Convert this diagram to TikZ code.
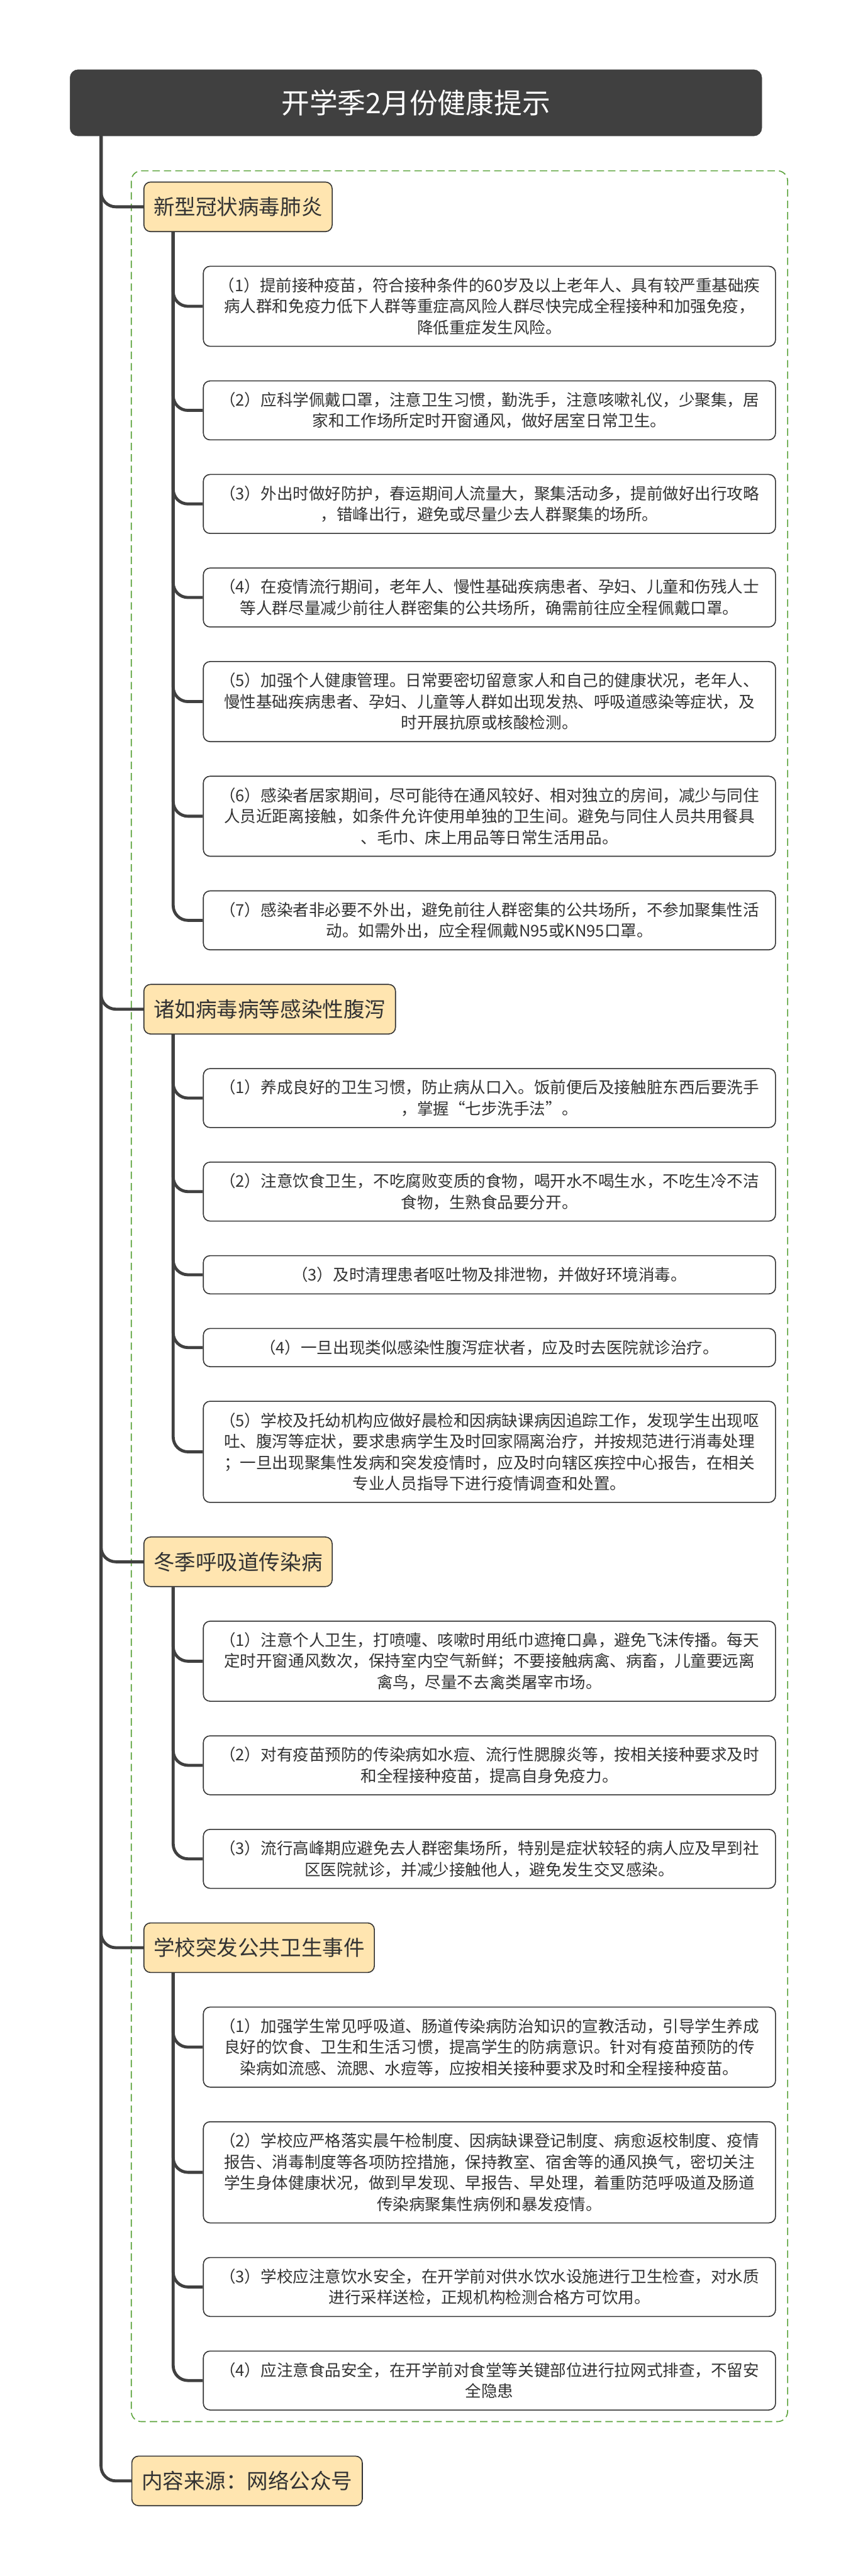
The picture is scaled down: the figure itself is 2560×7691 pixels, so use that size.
\documentclass[tikz,border=0pt]{standalone}
\usepackage{fontspec}
\setmainfont{Noto Sans CJK SC}
\usetikzlibrary{calc}
\definecolor{trunk}{HTML}{404040}
\definecolor{ink}{HTML}{333333}
\definecolor{secfill}{HTML}{FFE5B0}
\definecolor{framegreen}{HTML}{5BA33B}
\begin{document}
\begin{tikzpicture}[x=0.5pt,y=-0.5pt,
  conn/.style={draw=trunk,line width=4.5pt,rounded corners=22pt},
  titlebox/.style={fill=trunk,draw=trunk,rounded corners=12pt,minimum width=1032.5pt,minimum height=99pt,text=white,font=\fontsize{42pt}{50pt}\selectfont},
  secbox/.style={anchor=west,fill=secfill,draw=ink,line width=1.5pt,rounded corners=10pt,minimum height=74pt,inner xsep=14.5pt,text=ink,font=\fontsize{31.5pt}{38pt}\selectfont},
  itembox/.style={fill=white,draw=ink,line width=1.5pt,rounded corners=10pt,minimum width=854pt,align=center,text=ink,font=\fontsize{24pt}{31.5pt}\selectfont},
  lineone/.style={itembox,minimum height=57pt},
  linetwo/.style={itembox,minimum height=88pt},
  linethree/.style={itembox,minimum height=119.5pt},
  linefour/.style={itembox,minimum height=151pt}]
\fill[white] (0,0) rectangle (2560,7691);
\useasboundingbox (0,0) rectangle (2560,7691);
% group frame
\draw[framegreen,line width=1.5pt,dash pattern=on 11pt off 6pt,rounded corners=15pt] (392,510) rectangle (2351,7230);
% title
\node[titlebox] (title) at (1241.5,307) {开学季2月份健康提示};
% section 1
\node[secbox] (s1) at (428,617.5) {新型冠状病毒肺炎};
\node[linethree] (a1) at (1461,914.5) {（1）提前接种疫苗，符合接种条件的60岁及以上老年人、具有较严重基础疾\\病人群和免疫力低下人群等重症高风险人群尽快完成全程接种和加强免疫，\\降低重症发生风险。};
\node[linetwo] (a2) at (1461,1225.3) {（2）应科学佩戴口罩，注意卫生习惯，勤洗手，注意咳嗽礼仪，少聚集，居\\家和工作场所定时开窗通风，做好居室日常卫生。};
\node[linetwo] (a3) at (1461,1504.6) {（3）外出时做好防护，春运期间人流量大，聚集活动多，提前做好出行攻略\\，错峰出行，避免或尽量少去人群聚集的场所。};
\node[linetwo] (a4) at (1461,1783.9) {（4）在疫情流行期间，老年人、慢性基础疾病患者、孕妇、儿童和伤残人士\\等人群尽量减少前往人群密集的公共场所，确需前往应全程佩戴口罩。};
\node[linethree] (a5) at (1461,2094.7) {（5）加强个人健康管理。日常要密切留意家人和自己的健康状况，老年人、\\慢性基础疾病患者、孕妇、儿童等人群如出现发热、呼吸道感染等症状，及\\时开展抗原或核酸检测。};
\node[linethree] (a6) at (1461,2437) {（6）感染者居家期间，尽可能待在通风较好、相对独立的房间，减少与同住\\人员近距离接触，如条件允许使用单独的卫生间。避免与同住人员共用餐具\\、毛巾、床上用品等日常生活用品。};
\node[linetwo] (a7) at (1461,2747.8) {（7）感染者非必要不外出，避免前往人群密集的公共场所，不参加聚集性活\\动。如需外出，应全程佩戴N95或KN95口罩。};
% section 2
\node[secbox] (s2) at (428,3013.1) {诸如病毒病等感染性腹泻};
\node[linetwo] (b1) at (1461,3278.4) {（1）养成良好的卫生习惯，防止病从口入。饭前便后及接触脏东西后要洗手\\，掌握“七步洗手法”。};
\node[linetwo] (b2) at (1461,3557.7) {（2）注意饮食卫生，不吃腐败变质的食物，喝开水不喝生水，不吃生冷不洁\\食物，生熟食品要分开。};
\node[lineone] (b3) at (1461,3806) {（3）及时清理患者呕吐物及排泄物，并做好环境消毒。};
\node[lineone] (b4) at (1461,4023.3) {（4）一旦出现类似感染性腹泻症状者，应及时去医院就诊治疗。};
\node[linefour] (b5) at (1461,4334.6) {（5）学校及托幼机构应做好晨检和因病缺课病因追踪工作，发现学生出现呕\\吐、腹泻等症状，要求患病学生及时回家隔离治疗，并按规范进行消毒处理\\；一旦出现聚集性发病和突发疫情时，应及时向辖区疾控中心报告，在相关\\专业人员指导下进行疫情调查和处置。};
% section 3
\node[secbox] (s3) at (428,4662.9) {冬季呼吸道传染病};
\node[linethree] (c1) at (1461,4959.7) {（1）注意个人卫生，打喷嚏、咳嗽时用纸巾遮掩口鼻，避免飞沫传播。每天\\定时开窗通风数次，保持室内空气新鲜；不要接触病禽、病畜，儿童要远离\\禽鸟，尽量不去禽类屠宰市场。};
\node[linetwo] (c2) at (1461,5270.5) {（2）对有疫苗预防的传染病如水痘、流行性腮腺炎等，按相关接种要求及时\\和全程接种疫苗，提高自身免疫力。};
\node[linetwo] (c3) at (1461,5549.8) {（3）流行高峰期应避免去人群密集场所，特别是症状较轻的病人应及早到社\\区医院就诊，并减少接触他人，避免发生交叉感染。};
% section 4
\node[secbox] (s4) at (428,5815.1) {学校突发公共卫生事件};
\node[linethree] (d1) at (1461,6111.9) {（1）加强学生常见呼吸道、肠道传染病防治知识的宣教活动，引导学生养成\\良好的饮食、卫生和生活习惯，提高学生的防病意识。针对有疫苗预防的传\\染病如流感、流腮、水痘等，应按相关接种要求及时和全程接种疫苗。};
\node[linefour] (d2) at (1461,6485.7) {（2）学校应严格落实晨午检制度、因病缺课登记制度、病愈返校制度、疫情\\报告、消毒制度等各项防控措施，保持教室、宿舍等的通风换气，密切关注\\学生身体健康状况，做到早发现、早报告、早处理，着重防范呼吸道及肠道\\传染病聚集性病例和暴发疫情。};
\node[linetwo] (d3) at (1461,6828) {（3）学校应注意饮水安全，在开学前对供水饮水设施进行卫生检查，对水质\\进行采样送检，正规机构检测合格方可饮用。};
\node[linetwo] (d4) at (1461,7107.3) {（4）应注意食品安全，在开学前对食堂等关键部位进行拉网式排查，不留安\\全隐患};
% source
\node[secbox] (src) at (392,7407) {内容来源：网络公众号};
% connectors
\foreach \n in {s1,s2,s3,s4,src}
  \draw[conn] ($(title.south west)+(93,0)$) |- (\n.west);
\foreach \n in {a1,a2,a3,a4,a5,a6,a7}
  \draw[conn] ($(s1.south west)+(89,0)$) |- (\n.west);
\foreach \n in {b1,b2,b3,b4,b5}
  \draw[conn] ($(s2.south west)+(89,0)$) |- (\n.west);
\foreach \n in {c1,c2,c3}
  \draw[conn] ($(s3.south west)+(89,0)$) |- (\n.west);
\foreach \n in {d1,d2,d3,d4}
  \draw[conn] ($(s4.south west)+(89,0)$) |- (\n.west);
\end{tikzpicture}
\end{document}
